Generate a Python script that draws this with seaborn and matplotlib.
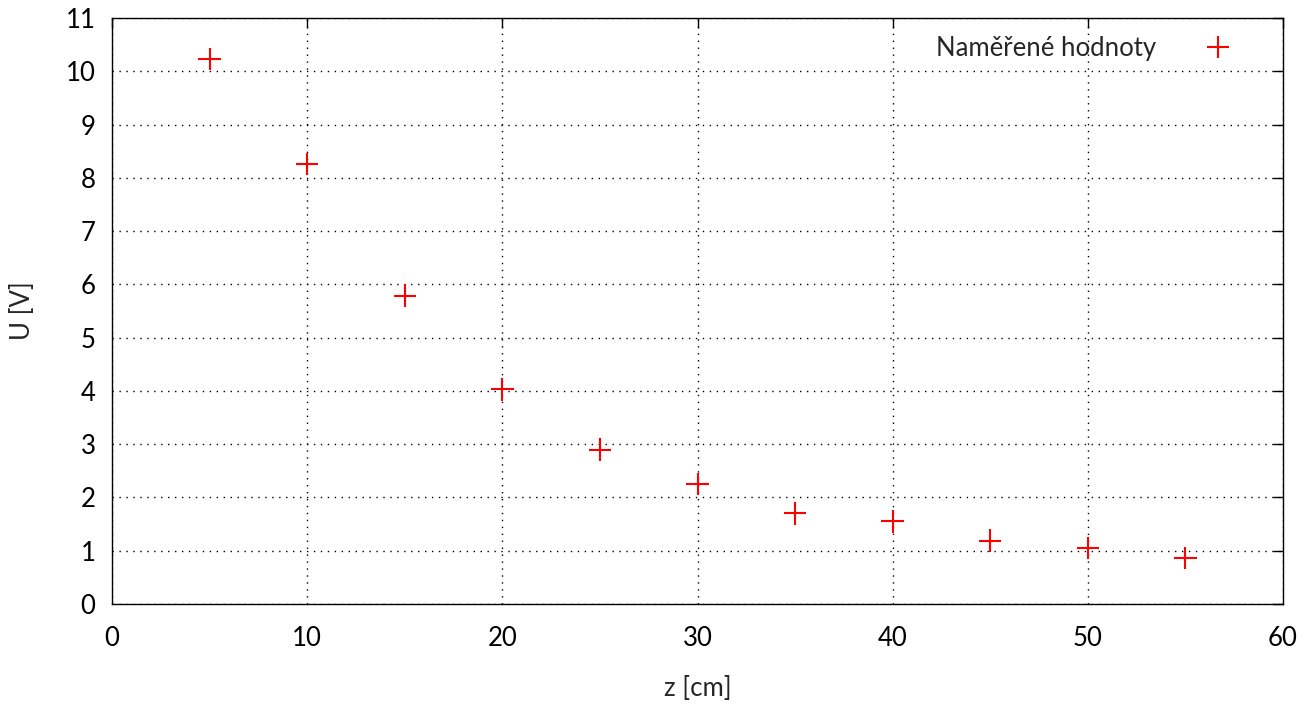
import pandas as pd
import matplotlib.pyplot as plt
import seaborn as sns

z_cm = [5, 10, 15, 20, 25, 30, 35, 40, 45, 50, 55]
u_v = [10.23, 8.26, 5.79, 4.03, 2.90, 2.25, 1.70, 1.55, 1.19, 1.05, 0.86]

data = pd.DataFrame({'z': z_cm, 'U': u_v, 'serie': 'Naměřené hodnoty'})

sns.set_style('white')
plt.rcParams['font.family'] = ['Lato', 'DejaVu Sans']

fig = plt.figure(figsize=(13.06, 7.07), dpi=100)
ax = fig.add_axes([0.0858, 0.1457, 0.8966, 0.8288])

sns.scatterplot(data=data, x='z', y='U', hue='serie', palette=['#ff0000'],
                marker='+', s=260, linewidth=1.5, ax=ax)

ax.set_xlim(0, 60)
ax.set_ylim(0, 11)
ax.set_xticks(range(0, 61, 10))
ax.set_yticks(range(0, 12))
ax.grid(True, color='black', linestyle=(0, (1, 4)), linewidth=1.0)
ax.tick_params(direction='in', length=7, width=1, top=True, right=True,
               labelsize=18.5, colors='black')
ax.tick_params(axis='x', pad=16)
ax.tick_params(axis='y', pad=12)
for s in ax.spines.values():
    s.set_color('black')
    s.set_linewidth(1)

ax.set_xlabel('z [cm]', fontsize=18.5, labelpad=18)
ax.set_ylabel('U [V]', fontsize=18.5, labelpad=22)

ax.legend(loc='upper right', frameon=False, markerfirst=False, fontsize=18.5,
          handletextpad=1.4, borderaxespad=0.3, bbox_to_anchor=(0.982, 1.0))

fig.savefig('out.png', dpi=100)
